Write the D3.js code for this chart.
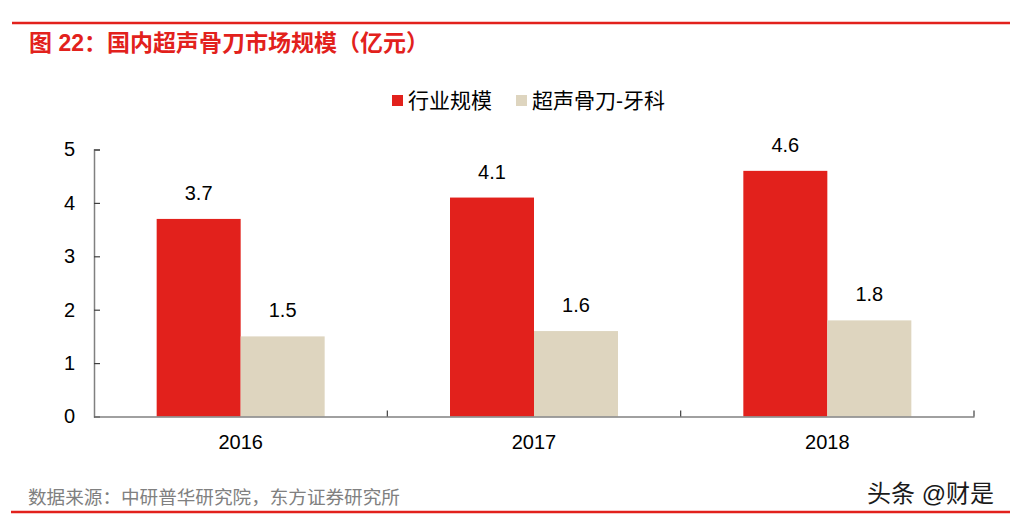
<!DOCTYPE html>
<html><head><meta charset="utf-8">
<script src="https://cdn.jsdelivr.net/npm/d3@7"></script>
<style>body{margin:0;background:#fff}svg{display:block}</style>
</head><body>
<svg id="c" width="1010" height="520"></svg>
<script>
const categories = ["2016", "2017", "2018"];
const seriesNames = ["行业规模", "超声骨刀-牙科"];
const industryScale = [3.7, 4.1, 4.6];
const dentalScale = [1.5, 1.6, 1.8];
const yTicks = [0, 1, 2, 3, 4, 5];
const colors = ["#e2211c", "#ded5bf"];
const titleText = "图 22：国内超声骨刀市场规模（亿元）";
const sourceText = "数据来源：中研普华研究院，东方证券研究所";
const watermark = "头条 @财是";

const svg = d3.select("#c");
const CJK = "'Liberation Sans','Noto Sans CJK SC',sans-serif";
const NUM = "'Liberation Sans',Arial,sans-serif";

// top / bottom red rules
svg.append("line").attr("x1", 12).attr("x2", 1010).attr("y1", 23).attr("y2", 23)
  .attr("stroke", "#e2211c").attr("stroke-width", 2.5);
svg.append("line").attr("x1", 11).attr("x2", 1010).attr("y1", 512).attr("y2", 512)
  .attr("stroke", "#e2211c").attr("stroke-width", 2.5);

svg.append("text").attr("x", 29).attr("y", 51).text(titleText)
  .attr("fill", "#e2211c").attr("font-size", 23).attr("font-weight", "bold")
  .attr("font-family", CJK);

const x0 = d3.scaleBand().domain(categories).range([94, 974]).paddingInner(0).paddingOuter(0);
const x1 = d3.scaleBand().domain([0, 1]).range([0, x0.bandwidth()]).paddingOuter(0.746).paddingInner(0);
const y = d3.scaleLinear().domain([0, 5]).range([416.5, 149.5]);

const series = [industryScale, dentalScale];

// bars
series.forEach((vals, si) => {
  svg.append("g").selectAll("rect").data(vals).join("rect")
    .attr("x", (d, i) => x0(categories[i]) + x1(si))
    .attr("width", x1.bandwidth())
    .attr("y", d => y(d))
    .attr("height", d => y(0) - y(d))
    .attr("fill", colors[si]);
  svg.append("g").selectAll("text").data(vals).join("text")
    .attr("x", (d, i) => x0(categories[i]) + x1(si) + x1.bandwidth() / 2)
    .attr("y", d => y(d) - 19)
    .attr("text-anchor", "middle")
    .attr("font-size", 20).attr("font-family", NUM)
    .attr("fill", "#000")
    .text(d => d.toFixed(1));
});

// y axis
const yAxis = svg.append("g").attr("transform", "translate(94,0)")
  .call(d3.axisRight(y).tickValues(yTicks).tickSize(6).tickFormat(d3.format("d")));
yAxis.select(".domain").attr("stroke", "#808080").attr("stroke-width", 1.5);
yAxis.selectAll(".tick line").attr("stroke", "#404040").attr("stroke-width", 1.2);
yAxis.selectAll(".tick text").attr("x", -19).attr("text-anchor", "end")
  .attr("font-size", 20).attr("font-family", NUM).attr("fill", "#000");

// x axis
const xAxis = svg.append("g").attr("transform", "translate(0,416.5)")
  .call(d3.axisBottom(x0).tickSize(0).tickSizeOuter(0));
xAxis.select(".domain").attr("stroke", "#808080").attr("stroke-width", 1.5);
xAxis.selectAll(".tick text").attr("y", 32).attr("dy", "0")
  .attr("font-size", 20).attr("font-family", NUM).attr("fill", "#000");
// category boundary ticks (inward)
const bounds = categories.slice(1).map(c => x0(c)).concat([x0.range()[1]]);
svg.append("g").selectAll("line").data(bounds).join("line")
  .attr("x1", d => d).attr("x2", d => d).attr("y1", 416.5).attr("y2", 410.5)
  .attr("stroke", "#404040").attr("stroke-width", 1.2);

// legend
const legendX = [392, 516];
seriesNames.forEach((n, i) => {
  svg.append("rect").attr("x", legendX[i]).attr("y", 95).attr("width", 11).attr("height", 11)
    .attr("fill", colors[i]);
  svg.append("text").attr("x", legendX[i] + 16).attr("y", 108).text(n)
    .attr("font-size", 21).attr("font-family", CJK).attr("fill", "#000");
});

// footer
svg.append("text").attr("x", 28).attr("y", 504).text(sourceText)
  .attr("font-size", 18.6).attr("font-family", CJK).attr("fill", "#808080");
svg.append("text").attr("x", 994).attr("y", 502).attr("text-anchor", "end").text(watermark)
  .attr("font-size", 24).attr("font-family", CJK).attr("fill", "#1a1a1a");
</script>
</body></html>
